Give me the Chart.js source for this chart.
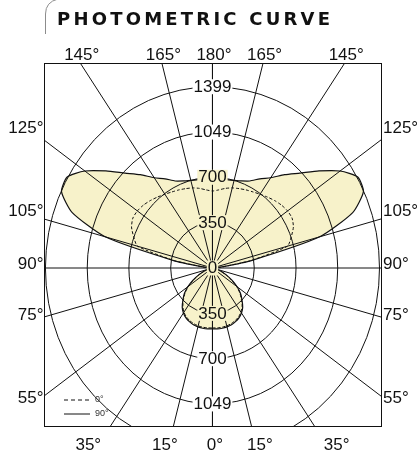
<!DOCTYPE html>
<html>
<head>
<meta charset="utf-8">
<script src="https://cdn.jsdelivr.net/npm/chart.js@4.4.1/dist/chart.umd.min.js"></script>
<style>
  html, body { margin: 0; padding: 0; background: #fff; }
  #wrap { position: relative; width: 419px; height: 454px; }
  #title {
    position: absolute; left: 57px; top: 10px;
    font: bold 18px "DejaVu Sans", sans-serif; line-height: 18px;
    color: #111; white-space: nowrap; z-index: 2;
  }
</style>
</head>
<body>
<div id="wrap"><div id="title"></div><canvas id="photometric"></canvas></div>
<script>
// luminous intensity, every 5 deg from nadir (0) to zenith (180)
const angles = [0, 5, 10, 15, 20, 25, 30, 35, 40, 45, 50, 55, 60, 65, 70, 75, 80, 85, 90,
  95, 100, 105, 110, 115, 120, 125, 130, 135, 140, 145, 150, 155, 160, 165, 170, 175, 180];
const plane90 = [470, 472, 472, 470, 466, 457, 444, 424, 394, 350, 307, 252, 188, 130, 80, 45, 25, 15, 15,
  70, 330, 930, 1250, 1395, 1405, 1305, 1165, 1035, 940, 850, 795, 741, 715, 700, 692, 690, 690];
const plane0 = [462, 464, 464, 462, 457, 449, 436, 416, 386, 342, 300, 245, 182, 125, 77, 44, 25, 15, 15,
  70, 320, 650, 702, 748, 770, 768, 755, 736, 715, 695, 678, 665, 652, 640, 624, 605, 594];

const ringValues = [350, 700, 1049, 1399];
const spokeAngles = [0, 15, 35, 55, 75, 90, 105, 125, 145, 165, 180];
const legendLabels = ['0°', '90°'];
const chartTitle = 'PHOTOMETRIC CURVE';

const INK = '#111';
const FILL = 'rgb(247, 242, 202)';
const LABEL_FONT = '17px "Liberation Sans", Arial, sans-serif';

// title as page text, spaced out to the width it has in the picture
const titleEl = document.getElementById('title');
titleEl.textContent = chartTitle;
{
  const m = document.createElement('canvas').getContext('2d');
  m.font = 'bold 18px "DejaVu Sans", sans-serif';
  const natural = m.measureText(chartTitle).width;
  titleEl.style.letterSpacing = Math.max(0, (273 - natural) / (chartTitle.length - 1)) + 'px';
}

// polar (angle from nadir, intensity) -> x/y in intensity units, right half then mirrored left half
function toXY(values) {
  const pts = [];
  angles.forEach((a, i) => {
    const t = a * Math.PI / 180;
    pts.push({ x: values[i] * Math.sin(t), y: -values[i] * Math.cos(t) });
  });
  for (let i = angles.length - 2; i >= 0; i--) {
    const t = angles[i] * Math.PI / 180;
    pts.push({ x: -values[i] * Math.sin(t), y: -values[i] * Math.cos(t) });
  }
  return pts;
}

function valueAt(values, angle) {
  return values[angles.indexOf(angle)];
}

const photometricGrid = {
  id: 'photometricGrid',
  afterDatasetsDraw(chart) {
    const { ctx, chartArea: area, scales: { x, y } } = chart;
    const cx = x.getPixelForValue(0), cy = y.getPixelForValue(0);
    const kx = x.getPixelForValue(1) - cx, ky = cy - y.getPixelForValue(1);

    // rings + spokes, clipped to the frame
    ctx.save();
    ctx.beginPath();
    ctx.rect(area.left, area.top, area.right - area.left, area.bottom - area.top);
    ctx.clip();
    ctx.strokeStyle = INK;
    ctx.lineWidth = 1;
    ringValues.forEach(r => {
      ctx.beginPath();
      ctx.ellipse(cx, cy, r * kx, r * ky, 0, 0, Math.PI * 2);
      ctx.stroke();
    });
    spokeAngles.forEach(a => {
      const t = a * Math.PI / 180;
      [1, -1].forEach(s => {
        ctx.beginPath();
        ctx.moveTo(cx, cy);
        ctx.lineTo(x.getPixelForValue(s * 4000 * Math.sin(t)), y.getPixelForValue(-4000 * Math.cos(t)));
        ctx.stroke();
      });
    });
    ctx.restore();

    // frame
    ctx.save();
    ctx.strokeStyle = INK;
    ctx.lineWidth = 1;
    ctx.strokeRect(area.left + 0.5, area.top + 0.5, area.right - area.left - 1, area.bottom - area.top - 1);
    ctx.restore();

    // ring value labels along the vertical axis
    ctx.save();
    ctx.font = LABEL_FONT;
    ctx.textAlign = 'center';
    ctx.textBaseline = 'middle';
    const boxLabel = (text, px, py, bg) => {
      const w = ctx.measureText(text).width + 2;
      ctx.fillStyle = bg;
      ctx.fillRect(px - w / 2, py - 7.5, w, 15);
      ctx.fillStyle = INK;
      ctx.fillText(text, px, py + 0.5);
    };
    ringValues.forEach(r => {
      [180, 0].forEach(a => {
        const py = y.getPixelForValue(a === 180 ? r : -r);
        if (py < area.top || py > area.bottom) return;
        const inside = valueAt(plane90, a) * 1.05 > r;
        boxLabel(String(r), cx, py, inside ? FILL : '#fff');
      });
    });
    boxLabel('0', cx, cy, FILL);
    ctx.restore();

    // angle labels round the frame
    ctx.save();
    ctx.font = LABEL_FONT;
    ctx.fillStyle = INK;
    ctx.textBaseline = 'alphabetic';
    const sideReach = 1490, topReach = 1582, bottomReach = 1485;
    spokeAngles.forEach(a => {
      const sides = (a === 0 || a === 180) ? [1] : [-1, 1];
      sides.forEach(s => {
        const t = a * Math.PI / 180;
        const u = s * Math.sin(t), v = Math.abs(a - 90) < 0.01 ? 0 : -Math.cos(t);
        const hx = Math.abs(u) > 1e-9 ? sideReach / Math.abs(u) : Infinity;
        const hy = v > 0 ? topReach / v : v < 0 ? bottomReach / -v : Infinity;
        const text = a + '°';
        if (hx < hy) {
          ctx.textAlign = s < 0 ? 'right' : 'left';
          const py = y.getPixelForValue(v * hx) + (a === 90 ? 1 : 0);
          ctx.fillText(text, s < 0 ? area.left - 0.5 : area.right + 1, py);
        } else if (v > 0) {
          ctx.textAlign = 'center';
          ctx.fillText(text, x.getPixelForValue(u * hy) + 1.5, area.top - 3);
        } else {
          ctx.textAlign = 'center';
          ctx.fillText(text, x.getPixelForValue(u * hy) + (a === 0 ? 2.5 : 0), area.bottom + 23);
        }
      });
    });
    ctx.restore();

    // legend, bottom left inside the frame
    ctx.save();
    ctx.strokeStyle = INK;
    ctx.lineWidth = 1;
    ctx.font = '9px "Liberation Sans", Arial, sans-serif';
    ctx.fillStyle = '#333';
    ctx.textAlign = 'left';
    ctx.textBaseline = 'middle';
    legendLabels.forEach((lab, i) => {
      const ly = area.bottom - 27 + i * 14;
      ctx.setLineDash(i === 0 ? [4, 3] : []);
      ctx.beginPath();
      ctx.moveTo(area.left + 20, ly);
      ctx.lineTo(area.left + 46, ly);
      ctx.stroke();
      ctx.fillText(lab, area.left + 51, ly);
    });
    ctx.restore();

    // bracket left of the title
    ctx.save();
    ctx.strokeStyle = '#8c8c8c';
    ctx.lineWidth = 1;
    ctx.beginPath();
    ctx.moveTo(45.5, 34);
    ctx.lineTo(45.5, 14);
    ctx.quadraticCurveTo(45.5, 2, 58, -1);
    ctx.stroke();
    ctx.restore();
  }
};

new Chart(document.getElementById('photometric'), {
  type: 'scatter',
  data: {
    datasets: [
      {
        label: legendLabels[0],
        data: toXY(plane0),
        showLine: true,
        fill: false,
        borderColor: INK,
        borderWidth: 1,
        borderDash: [3, 2],
        pointRadius: 0,
        tension: 0.2
      },
      {
        label: legendLabels[1],
        data: toXY(plane90),
        showLine: true,
        fill: 'shape',
        backgroundColor: FILL,
        borderColor: INK,
        borderWidth: 1.2,
        pointRadius: 0,
        tension: 0.2
      }
    ]
  },
  options: {
    responsive: true,
    maintainAspectRatio: false,
    animation: false,
    layout: { padding: { left: 44, right: 37, top: 63, bottom: 27 } },
    scales: {
      x: { type: 'linear', min: -1411, max: 1420, display: false },
      y: { type: 'linear', min: -1227, max: 1582, display: false }
    },
    plugins: {
      legend: { display: false },
      tooltip: { enabled: false },
      filler: { drawTime: 'beforeDatasetsDraw' }
    }
  },
  plugins: [photometricGrid]
});
</script>
</body>
</html>
